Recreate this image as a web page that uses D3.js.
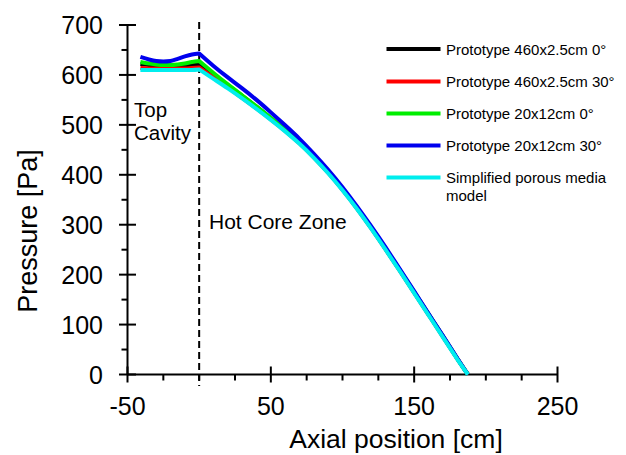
<!DOCTYPE html>
<html>
<head>
<meta charset="utf-8">
<script src="https://cdn.jsdelivr.net/npm/d3@7"></script>
<style>
  html, body { margin: 0; padding: 0; background: #fff; }
  svg { display: block; font-family: "Liberation Sans", Arial, sans-serif; }
</style>
</head>
<body>
<svg id="chart" width="626" height="455"></svg>
<script>
// ---- data ----
const axialPos    = [-41, -35, -30, -25, -20, -15, -10, -5, 0, 10, 20, 30, 40, 50, 60, 70, 80, 90, 100, 110, 120, 130, 140, 150, 160, 170, 180, 187.5];
const proto460_0  = [622, 620, 618, 618, 618, 618, 619, 620, 622, 600, 579, 558, 536, 513, 490, 464, 436, 405, 371, 334, 294, 252, 209, 165, 121, 77, 32, 0];
const proto460_30 = [614, 613, 613, 613, 613, 613, 613, 614, 615, 595, 575, 554, 533, 511, 488, 463, 435, 404, 370, 333, 293, 251, 208, 164, 120, 76, 32, 0];
const proto20_0   = [626, 623, 621, 620, 620, 621, 623, 626, 628, 604, 581, 559, 537, 514, 490, 465, 436, 405, 371, 334, 294, 252, 209, 165, 121, 77, 32, 0];
const proto20_30  = [636, 631, 628, 627, 628, 632, 637, 641, 643, 618, 595, 573, 550, 525, 499, 472, 442, 410, 375, 337, 297, 255, 211, 167, 122, 78, 33, 0];
const porousModel = [610, 610, 610, 610, 610, 610, 610, 610, 611, 592, 573, 553, 532, 510, 487, 462, 434, 403, 369, 332, 292, 250, 207, 163, 119, 75, 31, 0];

const seriesNames  = ["Prototype 460x2.5cm 0°", "Prototype 460x2.5cm 30°", "Prototype 20x12cm 0°", "Prototype 20x12cm 30°", "Simplified porous media model"];
const seriesValues = [proto460_0, proto460_30, proto20_0, proto20_30, porousModel];
const seriesColors = ["#000000", "#ff0000", "#00ee00", "#0000ee", "#00eeee"];

const xMajorTicks = [-50, 50, 150, 250];
const xMinorTicks = [-25, 0, 25, 75, 100, 125, 175, 200, 225];
const yMajorTicks = [0, 100, 200, 300, 400, 500, 600, 700];
const yMinorTicks = [50, 150, 250, 350, 450, 550, 650];

// ---- chart ----
const svg = d3.select("#chart");
const x = d3.scaleLinear().domain([-50, 250]).range([127.5, 557.5]);
const y = d3.scaleLinear().domain([0, 700]).range([374.5, 25]);

// dashed divider at x = 0 (top cavity / hot core boundary)
svg.append("line")
  .attr("x1", x(0)).attr("x2", x(0))
  .attr("y1", 22).attr("y2", 386)
  .attr("stroke", "#000").attr("stroke-width", 2)
  .attr("stroke-dasharray", "7,4");

// axes lines
const axisG = svg.append("g").attr("stroke", "#000").attr("stroke-width", 2);
axisG.append("line").attr("x1", x(-50)).attr("x2", x(250)).attr("y1", y(0)).attr("y2", y(0));
axisG.append("line").attr("x1", x(-50)).attr("x2", x(-50)).attr("y1", y(0)).attr("y2", y(700));

xMajorTicks.forEach(v => {
  axisG.append("line").attr("x1", x(v)).attr("x2", x(v)).attr("y1", y(0) - 8).attr("y2", y(0) + 8);
});
xMinorTicks.forEach(v => {
  axisG.append("line").attr("x1", x(v)).attr("x2", x(v)).attr("y1", y(0)).attr("y2", y(0) + 6);
});
yMajorTicks.forEach(v => {
  axisG.append("line").attr("x1", x(-50) - 8.5).attr("x2", x(-50) + 8.5).attr("y1", y(v)).attr("y2", y(v));
});
yMinorTicks.forEach(v => {
  axisG.append("line").attr("x1", x(-50) - 6).attr("x2", x(-50)).attr("y1", y(v)).attr("y2", y(v));
});

// tick labels
svg.append("g").selectAll("text").data(xMajorTicks).join("text")
  .attr("x", d => x(d)).attr("y", 415)
  .attr("text-anchor", "middle").attr("font-size", 25)
  .text(d => d);
svg.append("g").selectAll("text").data(yMajorTicks).join("text")
  .attr("x", 103).attr("y", d => y(d) + 9)
  .attr("text-anchor", "end").attr("font-size", 25)
  .text(d => d);

// axis titles
svg.append("text").attr("x", 396).attr("y", 448)
  .attr("text-anchor", "middle").attr("font-size", 26.5)
  .text("Axial position [cm]");
svg.append("text")
  .attr("transform", "translate(37,231) rotate(-90)")
  .attr("text-anchor", "middle").attr("font-size", 27)
  .text("Pressure [Pa]");

// annotations
svg.append("text").attr("x", 134).attr("y", 117).attr("font-size", 20.5).text("Top");
svg.append("text").attr("x", 134).attr("y", 140).attr("font-size", 20.5).text("Cavity");
svg.append("text").attr("x", 209).attr("y", 229).attr("font-size", 21).text("Hot Core Zone");

// lines: smooth within each zone, sharp corner at x = 0
const splitIdx = axialPos.indexOf(0);
const cavityLine = d3.line().x(d => x(d[0])).y(d => y(d[1])).curve(d3.curveMonotoneX);
const coreLine = d3.line().x(d => x(d[0])).y(d => y(d[1])).curve(d3.curveNatural);
function seriesPath(vals) {
  const pts = axialPos.map((p, i) => [p, vals[i]]);
  const cavity = pts.slice(0, splitIdx + 1);
  const core = pts.slice(splitIdx);
  return cavityLine(cavity) + coreLine(core).replace(/^M[^CL]*/, "");
}
svg.append("g").selectAll("path").data(seriesValues).join("path")
  .attr("d", d => seriesPath(d))
  .attr("fill", "none")
  .attr("stroke", (d, i) => seriesColors[i])
  .attr("stroke-width", 4)
  .attr("stroke-linejoin", "round");

// legend
const legY = [49, 81.5, 113.5, 145.5, 177.5];
const leg = svg.append("g");
seriesNames.forEach((name, i) => {
  leg.append("line")
    .attr("x1", 386.5).attr("x2", 440.5)
    .attr("y1", legY[i]).attr("y2", legY[i])
    .attr("stroke", seriesColors[i]).attr("stroke-width", 4);
  if (i < 4) {
    leg.append("text").attr("x", 446).attr("y", legY[i] + 5.5)
      .attr("font-size", 15).text(name);
  } else {
    const words = name.split(" ");
    leg.append("text").attr("x", 446).attr("y", legY[i] + 5.5)
      .attr("font-size", 15).text(words.slice(0, 3).join(" "));
    leg.append("text").attr("x", 446).attr("y", legY[i] + 23.5)
      .attr("font-size", 15).text(words.slice(3).join(" "));
  }
});
</script>
</body>
</html>
